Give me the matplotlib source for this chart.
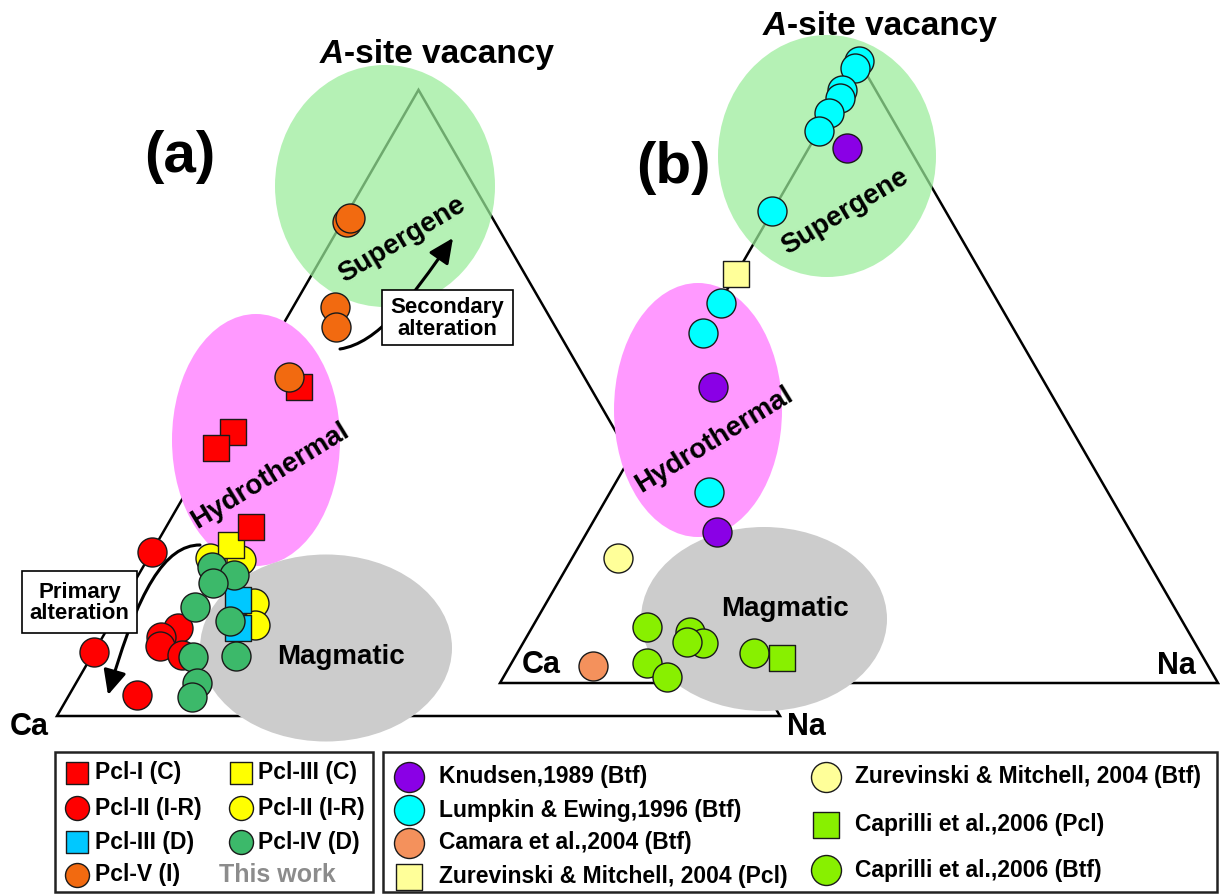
import numpy as np
import matplotlib
matplotlib.use("Agg")
import matplotlib.pyplot as plt
from matplotlib.patches import Ellipse, Polygon, Rectangle, FancyArrowPatch
from matplotlib.path import Path

plt.rcParams['font.family'] = ['Liberation Sans', 'DejaVu Sans']

# ---------------------------------------------------------------
# Compositions in mol% of the A site: Na and A-site vacancy (Ca = rest)
# ---------------------------------------------------------------
# (a) this work
pcl1_c_na = [7.2, 1.7, 0.6, 11.7]
pcl1_c_vac = [52.6, 45.4, 42.8, 30.2]
pcl3_c_na = [10.4]
pcl3_c_vac = [27.3]
pcl2_red_na = [0.0, 0.0, 9.3, 9.7, 8.1, 8.7, 12.4]
pcl2_red_vac = [26.2, 10.2, 3.4, 14.1, 12.6, 11.2, 9.7]
pcl2_yel_na = [8.5, 13.0, 18.2, 20.1]
pcl2_yel_vac = [25.2, 24.9, 18.1, 14.5]
pcl3_d_na = [15.8, 18.0]
pcl3_d_vac = [18.5, 14.1]
pcl4_d_na = [9.5, 13.2, 11.0, 10.4, 16.3, 14.1, 20.0, 16.7, 17.2]
pcl4_d_vac = [23.8, 22.5, 21.2, 17.4, 15.2, 9.4, 9.6, 5.3, 3.0]
pcl5_i_na = [0.7, 0.8, 5.8, 7.5, 5.0]
pcl5_i_vac = [78.9, 79.5, 65.3, 62.1, 54.2]

# (b) literature data
knudsen_na = [5.3, 5.9, 18.1]
knudsen_vac = [86.0, 47.6, 24.3]
lumpkin_na = [0.0, 0.0, 0.0, 0.3, 0.0, 0.0, 0.0, 0.2, 0.1, 13.8]
lumpkin_vac = [100.0, 98.9, 95.4, 94.1, 91.7, 88.8, 75.9, 61.1, 56.3, 30.7]
camara_na = [11.6]
camara_vac = [2.7]
zur_pcl_na = [0.0]
zur_pcl_vac = [65.8]
zur_btf_na = [6.4]
zur_btf_vac = [20.1]
cap_pcl_na = [37.3]
cap_pcl_vac = [4.0]
cap_btf_na = [16.0, 22.4, 25.1, 22.7, 18.9, 22.8, 33.0]
cap_btf_vac = [9.0, 8.2, 6.4, 6.6, 3.2, 1.0, 4.8]

legend_a = [("s", "#ff0000", "Pcl-I (C)"), ("s", "#ffff00", "Pcl-III (C)"),
            ("o", "#ff0000", "Pcl-II (I-R)"), ("o", "#ffff00", "Pcl-II (I-R)"),
            ("s", "#00c8ff", "Pcl-III (D)"), ("o", "#3cb96a", "Pcl-IV (D)"),
            ("o", "#f26a10", "Pcl-V (I)")]
legend_b1 = [("o", "#8a00e6", "Knudsen,1989 (Btf)"),
             ("o", "#00ffff", "Lumpkin & Ewing,1996 (Btf)"),
             ("o", "#f4915c", "Camara et al.,2004 (Btf)"),
             ("s", "#ffff99", "Zurevinski & Mitchell, 2004 (Pcl)")]
legend_b2 = [("o", "#ffff99", "Zurevinski & Mitchell, 2004 (Btf)"),
             ("s", "#88f000", "Caprilli et al.,2006 (Pcl)"),
             ("o", "#88f000", "Caprilli et al.,2006 (Btf)")]

# ---------------------------------------------------------------
fig = plt.figure(figsize=(12.2, 8.94), dpi=100)
ax = fig.add_axes([0, 0, 1, 1])
ax.set_xlim(0, 1220)
ax.set_ylim(894, 0)
ax.axis("off")

PT = 0.72          # points per pixel at 100 dpi
EDGE = "#1a1a1a"
GREEN = "#99ec99"
PINK = "#ff99ff"
GREY = "#cccccc"
BOLD = dict(weight="bold", color="black")

frame_a = (57, 716, 723)     # Ca corner x, y and side length
frame_b = (500, 683, 718)


def to_xy(na, vac, frame):
    x0, y0, side = frame
    na = np.asarray(na, float) / 100.0
    vac = np.asarray(vac, float) / 100.0
    return x0 + side * (na + vac / 2.0), y0 - side * np.sqrt(3) / 2.0 * vac


def corners(frame):
    x, y = to_xy([0, 100, 0], [0, 0, 100], frame)
    return np.column_stack([x, y])


def plot_series(na, vac, frame, marker, color, z):
    x, y = to_xy(na, vac, frame)
    size = (29 * PT) ** 2 if marker == "o" else (27 * PT) ** 2
    ax.scatter(x, y, s=size, marker=marker, c=color, edgecolors=EDGE,
               linewidths=1.0, zorder=z)


def vacancy_title(x_join, y_base):
    ax.text(x_join, y_base, "A", fontsize=24, style="italic", ha="right",
            va="baseline", zorder=20, **BOLD)
    ax.text(x_join, y_base, "-site vacancy", fontsize=24, ha="left",
            va="baseline", zorder=20, **BOLD)


def curved_arrow(verts, z):
    path = Path(verts, [Path.MOVETO, Path.CURVE4, Path.CURVE4, Path.CURVE4])
    ax.add_patch(FancyArrowPatch(path=path, arrowstyle="-|>,head_length=0.75,head_width=0.35",
                                 mutation_scale=20, lw=2.2, color="black",
                                 shrinkA=0, shrinkB=0, zorder=z))


def boxed_label(x, y, w, h, text, z):
    ax.add_patch(Rectangle((x, y), w, h, fc="white", ec="black", lw=1.2, zorder=z))
    ax.text(x + w / 2, y + h / 2 + 1, text, fontsize=16, ha="center", va="center",
            linespacing=1.05, zorder=z + 0.1, **BOLD)


# ------------------------- panel (a) -------------------------
ax.add_patch(Polygon(corners(frame_a), closed=True, fill=False, ec="black",
                     lw=1.8, joinstyle="miter", zorder=1))
ax.add_patch(Ellipse((385, 186), 220, 242, fc=GREEN, ec="none", alpha=0.72, zorder=2))
ax.add_patch(Ellipse((256, 440), 168, 252, fc=PINK, ec="none", zorder=2))
ax.add_patch(Ellipse((326, 648), 252, 187, fc=GREY, ec="none", zorder=2))

curved_arrow([(200, 545), (165, 545), (138, 590), (108, 695)], 3)
curved_arrow([(340, 349), (378, 343), (410, 300), (453, 238)], 3)
boxed_label(22, 571, 115, 62, "Primary\nalteration", 4)
boxed_label(382, 290, 131, 55, "Secondary\nalteration", 4)

plot_series(pcl2_yel_na, pcl2_yel_vac, frame_a, "o", "#ffff00", 5)
plot_series(pcl3_c_na, pcl3_c_vac, frame_a, "s", "#ffff00", 5.1)
plot_series(pcl3_d_na, pcl3_d_vac, frame_a, "s", "#00c8ff", 5.2)
plot_series(pcl2_red_na, pcl2_red_vac, frame_a, "o", "#ff0000", 5.3)
plot_series(pcl4_d_na, pcl4_d_vac, frame_a, "o", "#3cb96a", 5.4)
plot_series(pcl1_c_na, pcl1_c_vac, frame_a, "s", "#ff0000", 5.5)
plot_series(pcl5_i_na, pcl5_i_vac, frame_a, "o", "#f26a10", 5.6)

ax.text(402, 240, "Supergene", fontsize=20, rotation=31, ha="center", va="center",
        rotation_mode="anchor", zorder=6, **BOLD)
ax.text(270, 476, "Hydrothermal", fontsize=20, rotation=31.5, ha="center", va="center",
        rotation_mode="anchor", zorder=6, **BOLD)
ax.text(341, 657, "Magmatic", fontsize=20, ha="center", va="center", zorder=6, **BOLD)
ax.text(29, 727, "Ca", fontsize=22, ha="center", va="center", zorder=6, **BOLD)
ax.text(806, 727, "Na", fontsize=22, ha="center", va="center", zorder=6, **BOLD)
ax.text(180, 157, "(a)", fontsize=42, ha="center", va="center", zorder=6, **BOLD)
vacancy_title(344, 63)

# ------------------------- panel (b) -------------------------
ax.add_patch(Polygon(corners(frame_b), closed=True, fc="white", ec="black",
                     lw=1.8, joinstyle="miter", zorder=7))
ax.add_patch(Ellipse((827, 156), 218, 242, fc=GREEN, ec="none", alpha=0.72, zorder=8))
ax.add_patch(Ellipse((698, 410), 168, 254, fc=PINK, ec="none", zorder=8))
ax.add_patch(Ellipse((764, 619), 246, 184, fc=GREY, ec="none", zorder=8))

plot_series(lumpkin_na, lumpkin_vac, frame_b, "o", "#00ffff", 9)
plot_series(knudsen_na, knudsen_vac, frame_b, "o", "#8a00e6", 9.1)
plot_series(zur_pcl_na, zur_pcl_vac, frame_b, "s", "#ffff99", 9.2)
plot_series(zur_btf_na, zur_btf_vac, frame_b, "o", "#ffff99", 9.3)
plot_series(camara_na, camara_vac, frame_b, "o", "#f4915c", 9.4)
plot_series(cap_btf_na, cap_btf_vac, frame_b, "o", "#88f000", 9.5)
plot_series(cap_pcl_na, cap_pcl_vac, frame_b, "s", "#88f000", 9.6)

ax.text(845, 212, "Supergene", fontsize=20, rotation=31, ha="center", va="center",
        rotation_mode="anchor", zorder=10, **BOLD)
ax.text(714, 440, "Hydrothermal", fontsize=20, rotation=31.5, ha="center", va="center",
        rotation_mode="anchor", zorder=10, **BOLD)
ax.text(785, 609, "Magmatic", fontsize=20, ha="center", va="center", zorder=10, **BOLD)
ax.text(541, 665, "Ca", fontsize=22, ha="center", va="center", zorder=10, **BOLD)
ax.text(1176, 666, "Na", fontsize=22, ha="center", va="center", zorder=10, **BOLD)
ax.text(673, 168, "(b)", fontsize=42, ha="center", va="center", zorder=10, **BOLD)
vacancy_title(787, 35)

# ------------------------- legends -------------------------
ax.add_patch(Rectangle((55, 752), 318, 140, fc="white", ec="#222222", lw=1.8, zorder=11))
ax.add_patch(Rectangle((383, 752), 834, 140, fc="white", ec="#222222", lw=1.8, zorder=11))

rows_a = [773, 808, 842, 875]
for i, (mk, col, lab) in enumerate(legend_a):
    r, c = divmod(i, 2)
    mx, tx = (77, 95) if c == 0 else (241, 258)
    size = (24 * PT) ** 2 if mk == "o" else (22 * PT) ** 2
    ax.scatter([mx], [rows_a[r]], s=size, marker=mk, c=col, edgecolors=EDGE,
               linewidths=1.0, zorder=12)
    ax.text(tx, rows_a[r], lab, fontsize=16.5, ha="left", va="center", zorder=12, **BOLD)
ax.text(277, 875, "This work", fontsize=18, weight="bold", color="#8c8c8c",
        ha="center", va="center", zorder=12)

for entries, mx, tx, rows in [(legend_b1, 409, 439, [777, 810, 843, 877]),
                              (legend_b2, 826, 855, [777, 825, 870])]:
    for (mk, col, lab), ry in zip(entries, rows):
        size = (30 * PT) ** 2 if mk == "o" else (27 * PT) ** 2
        ax.scatter([mx], [ry], s=size, marker=mk, c=col, edgecolors=EDGE,
                   linewidths=1.0, zorder=12)
        ax.text(tx, ry, lab, fontsize=16.5, ha="left", va="center", zorder=12, **BOLD)

fig.savefig("out.png", dpi=100)
